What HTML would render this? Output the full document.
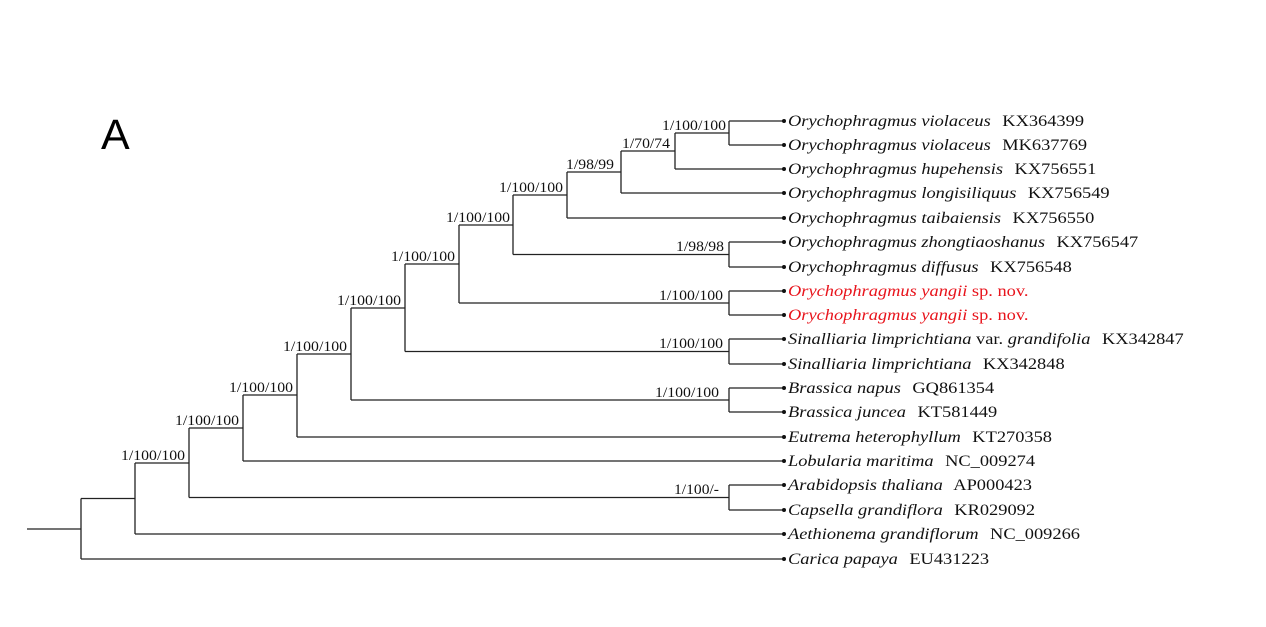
<!DOCTYPE html>
<html><head><meta charset="utf-8"><style>
html,body{margin:0;padding:0;background:#fff;}
svg{display:block}
.s{font-family:"Liberation Serif",serif;font-size:14.5px;fill:#111;}
.l{font-family:"Liberation Serif",serif;font-size:16px;fill:#111;}
.r{fill:#e8141c}
</style></head><body>
<svg width="1266" height="627" viewBox="0 0 1266 627" xmlns="http://www.w3.org/2000/svg">
<text x="101" y="149" font-family="Liberation Sans, sans-serif" font-size="43" fill="#000">A</text>
<g stroke="#222" stroke-width="1.3" fill="none">
<path d="M27 529H81 M81 498.5V559 M81 498.5H135 M81 559H784"/>
<path d="M135 463V534 M135 463H189 M135 534H784"/>
<path d="M189 428V497.5 M189 428H243 M189 497.5H729 M729 485V510 M729 485H784 M729 510H784"/>
<path d="M243 395V461 M243 395H297 M243 461H784"/>
<path d="M297 354V437 M297 354H351 M297 437H784"/>
<path d="M351 308V400 M351 308H405 M351 400H729 M729 388V412 M729 388H784 M729 412H784"/>
<path d="M405 264V351.5 M405 264H459 M405 351.5H729 M729 339V364 M729 339H784 M729 364H784"/>
<path d="M459 225V303 M459 225H513 M459 303H729 M729 291V315 M729 291H784 M729 315H784"/>
<path d="M513 195V254.5 M513 195H567 M513 254.5H729 M729 242V267 M729 242H784 M729 267H784"/>
<path d="M567 172V218 M567 172H621 M567 218H784"/>
<path d="M621 151V193 M621 151H675 M621 193H784"/>
<path d="M675 133V169 M675 133H729 M675 169H784"/>
<path d="M729 121V145 M729 121H784 M729 145H784"/>
</g>
<g fill="#111">
<circle cx="784" cy="121" r="2"/><circle cx="784" cy="145" r="2"/><circle cx="784" cy="169" r="2"/><circle cx="784" cy="193" r="2"/><circle cx="784" cy="218" r="2"/><circle cx="784" cy="242" r="2"/><circle cx="784" cy="267" r="2"/><circle cx="784" cy="291" r="2"/><circle cx="784" cy="315" r="2"/><circle cx="784" cy="339" r="2"/><circle cx="784" cy="364" r="2"/><circle cx="784" cy="388" r="2"/><circle cx="784" cy="412" r="2"/><circle cx="784" cy="437" r="2"/><circle cx="784" cy="461" r="2"/><circle cx="784" cy="485" r="2"/><circle cx="784" cy="510" r="2"/><circle cx="784" cy="534" r="2"/><circle cx="784" cy="559" r="2"/>
</g>
<g class="s" lengthAdjust="spacingAndGlyphs">
<text x="662" y="130" textLength="64" lengthAdjust="spacingAndGlyphs">1/100/100</text>
<text x="622" y="148" textLength="48" lengthAdjust="spacingAndGlyphs">1/70/74</text>
<text x="566" y="169" textLength="48" lengthAdjust="spacingAndGlyphs">1/98/99</text>
<text x="499" y="192" textLength="64" lengthAdjust="spacingAndGlyphs">1/100/100</text>
<text x="446" y="222" textLength="64" lengthAdjust="spacingAndGlyphs">1/100/100</text>
<text x="391" y="261" textLength="64" lengthAdjust="spacingAndGlyphs">1/100/100</text>
<text x="337" y="305" textLength="64" lengthAdjust="spacingAndGlyphs">1/100/100</text>
<text x="283" y="351" textLength="64" lengthAdjust="spacingAndGlyphs">1/100/100</text>
<text x="229" y="392" textLength="64" lengthAdjust="spacingAndGlyphs">1/100/100</text>
<text x="175" y="425" textLength="64" lengthAdjust="spacingAndGlyphs">1/100/100</text>
<text x="121" y="460" textLength="64" lengthAdjust="spacingAndGlyphs">1/100/100</text>
<text x="676" y="251" textLength="48" lengthAdjust="spacingAndGlyphs">1/98/98</text>
<text x="659" y="300" textLength="64" lengthAdjust="spacingAndGlyphs">1/100/100</text>
<text x="659" y="348" textLength="64" lengthAdjust="spacingAndGlyphs">1/100/100</text>
<text x="655" y="397" textLength="64" lengthAdjust="spacingAndGlyphs">1/100/100</text>
<text x="674" y="494" textLength="45" lengthAdjust="spacingAndGlyphs">1/100/-</text>
</g>
<g class="l" transform="translate(788,0) scale(1.15,1)">
<text x="0" y="126"><tspan font-style="italic">Orychophragmus violaceus</tspan><tspan dx="6"> KX364399</tspan></text>
<text x="0" y="150"><tspan font-style="italic">Orychophragmus violaceus</tspan><tspan dx="6"> MK637769</tspan></text>
<text x="0" y="174"><tspan font-style="italic">Orychophragmus hupehensis</tspan><tspan dx="6"> KX756551</tspan></text>
<text x="0" y="198"><tspan font-style="italic">Orychophragmus longisiliquus</tspan><tspan dx="6"> KX756549</tspan></text>
<text x="0" y="223"><tspan font-style="italic">Orychophragmus taibaiensis</tspan><tspan dx="6"> KX756550</tspan></text>
<text x="0" y="247"><tspan font-style="italic">Orychophragmus zhongtiaoshanus</tspan><tspan dx="6"> KX756547</tspan></text>
<text x="0" y="272"><tspan font-style="italic">Orychophragmus diffusus</tspan><tspan dx="6"> KX756548</tspan></text>
<text x="0" y="296" class="r"><tspan font-style="italic">Orychophragmus yangii</tspan> sp. nov.</text>
<text x="0" y="320" class="r"><tspan font-style="italic">Orychophragmus yangii</tspan> sp. nov.</text>
<text x="0" y="344"><tspan font-style="italic">Sinalliaria limprichtiana</tspan> var. <tspan font-style="italic">grandifolia</tspan><tspan dx="6"> KX342847</tspan></text>
<text x="0" y="369"><tspan font-style="italic">Sinalliaria limprichtiana</tspan><tspan dx="6"> KX342848</tspan></text>
<text x="0" y="393"><tspan font-style="italic">Brassica napus</tspan><tspan dx="6"> GQ861354</tspan></text>
<text x="0" y="417"><tspan font-style="italic">Brassica juncea</tspan><tspan dx="6"> KT581449</tspan></text>
<text x="0" y="442"><tspan font-style="italic">Eutrema heterophyllum</tspan><tspan dx="6"> KT270358</tspan></text>
<text x="0" y="466"><tspan font-style="italic">Lobularia maritima</tspan><tspan dx="6"> NC_009274</tspan></text>
<text x="0" y="490"><tspan font-style="italic">Arabidopsis thaliana</tspan><tspan dx="6"> AP000423</tspan></text>
<text x="0" y="515"><tspan font-style="italic">Capsella grandiflora</tspan><tspan dx="6"> KR029092</tspan></text>
<text x="0" y="539"><tspan font-style="italic">Aethionema grandiflorum</tspan><tspan dx="6"> NC_009266</tspan></text>
<text x="0" y="564"><tspan font-style="italic">Carica papaya</tspan><tspan dx="6"> EU431223</tspan></text>
</g>
</svg>
</body></html>
